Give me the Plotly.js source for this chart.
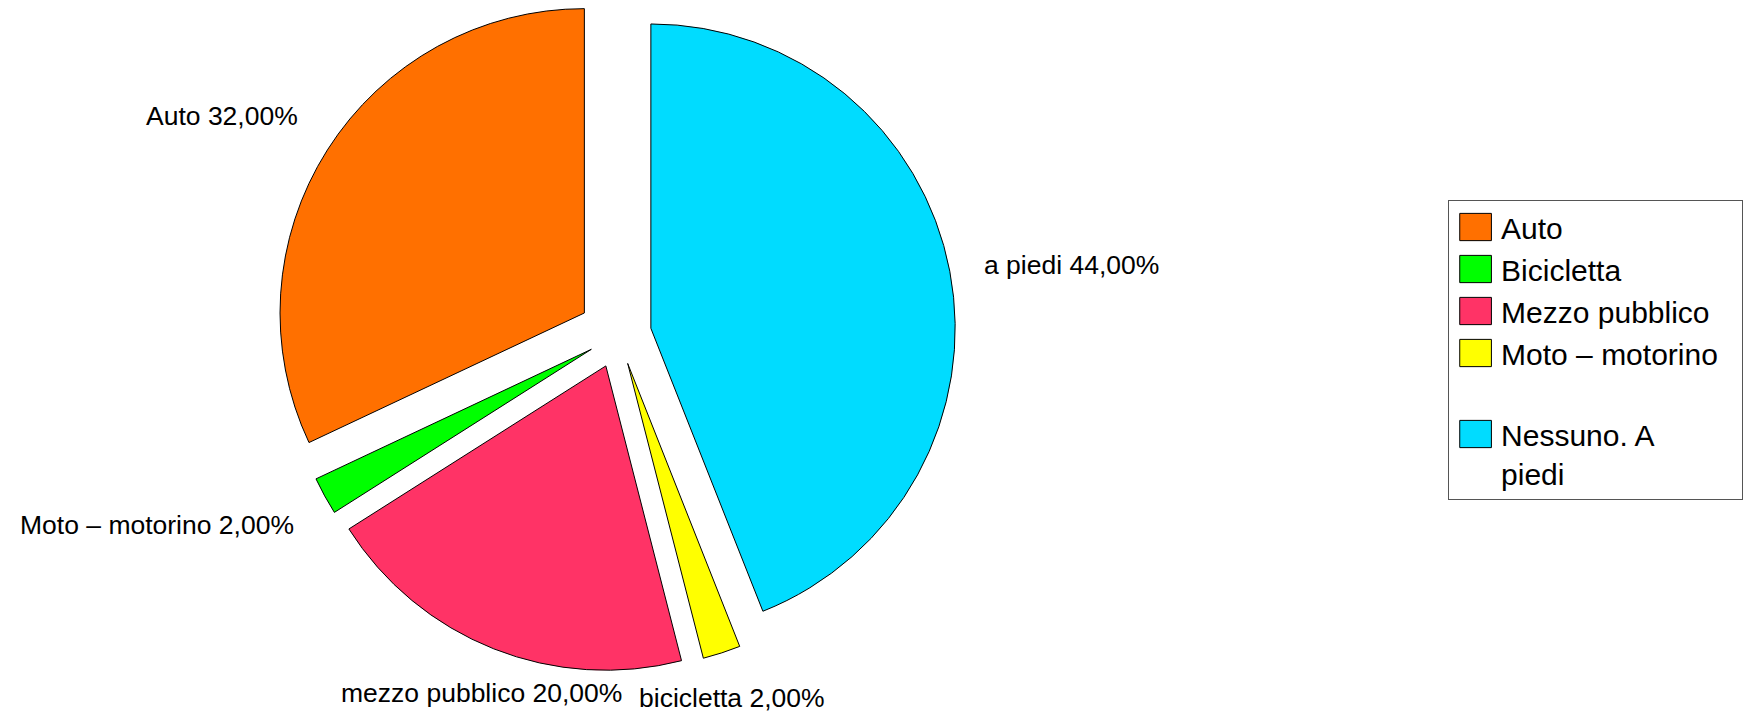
<!DOCTYPE html>
<html>
<head>
<meta charset="utf-8">
<script src="https://cdn.plot.ly/plotly-3.0.1.min.js"></script>
<style>
  html, body { margin: 0; padding: 0; background: #fff; overflow: hidden; }
  #chart { position: relative; top: -14px; width: 1751px; height: 726px; }
  .legendpie {
    transform: translate(26.5px, 0px) scale(2.64, 2.27) !important;
    vector-effect: non-scaling-stroke;
  }
  .legend rect.bg { width: 293.5px !important; }
</style>
</head>
<body>
<div id="chart"></div>
<script>
// Slice order, clockwise from 12 o'clock (legend is shown reversed)
var legendLabels = ["<br>Nessuno. A<br>piedi", "Moto – motorino", "Mezzo pubblico", "Bicicletta", "Auto"];
// Names written next to each slice in the original chart
var sliceNames = ["a piedi", "bicicletta", "mezzo pubblico", "Moto – motorino", "Auto"];
// Shares (%)
var values = [44, 2, 20, 2, 32];
var colors = ["#00DCFF", "#FFFF00", "#FF3366", "#00FF00", "#FF7000"];
// Explosion of each slice (fraction of radius)
var pulls = [0.109, 0.100, 0.111, 0.101, 0.132];

var sliceText = sliceNames.map(function (n, i) {
  return n + " " + values[i].toFixed(2).replace(".", ",") + "%";
});

var labelFont = { family: "Liberation Sans, Arial, sans-serif", size: 26.5, color: "#000000" };

var trace = {
  type: "pie",
  labels: legendLabels,
  values: values,
  text: sliceText,
  textinfo: "none",
  sort: false,
  direction: "clockwise",
  rotation: 0,
  pull: pulls,
  marker: { colors: colors, line: { color: "#000000", width: 1 } },
  domain: { x: [0.1531, 0.5531], y: [0, 1] },
  hoverinfo: "none",
  automargin: false
};

var layout = {
  width: 1751,
  height: 726,
  margin: { l: 0, r: 0, t: 4, b: 33, pad: 0 },
  paper_bgcolor: "#ffffff",
  plot_bgcolor: "#ffffff",
  font: { family: "Liberation Sans, Arial, sans-serif", color: "#000000" },
  showlegend: true,
  legend: {
    x: 0.827, y: 0.6952, xanchor: "left", yanchor: "top",
    bordercolor: "#555555", borderwidth: 1, bgcolor: "#ffffff",
    font: { family: "Liberation Sans, Arial, sans-serif", size: 30, color: "#000000" },
    itemwidth: 42,
    valign: "middle",
    traceorder: "reversed"
  }
};

// Outside labels placed from the pie geometry computed by Plotly
// (anchor on the slice bisector just beyond the rim, aligned by angle sector)
function labelAnnotations(gd) {
  var cd = gd.calcdata[0];
  var cd0 = cd[0];
  var sz = gd._fullLayout._size;
  var k = 1.11;
  return cd.map(function (pt, i) {
    var cx = (pt.cxFinal !== undefined) ? pt.cxFinal : cd0.cx + pulls[i] * pt.pxmid[0];
    var cy = (pt.cyFinal !== undefined) ? pt.cyFinal : cd0.cy + pulls[i] * pt.pxmid[1];
    var px = cx + pt.pxmid[0] * k;
    var py = cy + pt.pxmid[1] * k;
    var ang = Math.atan2(-pt.pxmid[1], pt.pxmid[0]) * 180 / Math.PI;
    if (ang < 0) ang += 360;
    var xa, ya;
    if (ang <= 22.5 || ang >= 337.5) { xa = "left"; ya = "middle"; }
    else if (ang < 67.5) { xa = "left"; ya = "bottom"; }
    else if (ang < 112.5) { xa = "center"; ya = "bottom"; }
    else if (ang < 157.5) { xa = "right"; ya = "bottom"; }
    else if (ang < 202.5) { xa = "right"; ya = "middle"; }
    else if (ang < 247.5) { xa = "right"; ya = "top"; }
    else if (ang < 292.5) { xa = "center"; ya = "top"; }
    else { xa = "left"; ya = "top"; }
    return {
      xref: "paper", yref: "paper",
      x: (px - sz.l) / sz.w,
      y: 1 - (py - sz.t) / sz.h,
      xanchor: xa, yanchor: ya,
      yshift: (ya === "top") ? 3 : 0,
      text: sliceText[i],
      showarrow: false,
      borderpad: 0,
      font: labelFont
    };
  });
}

Plotly.newPlot("chart", [trace], layout, { displayModeBar: false, staticPlot: true })
  .then(function (gd) {
    return Plotly.relayout(gd, { annotations: labelAnnotations(gd) });
  });
</script>
</body>
</html>
